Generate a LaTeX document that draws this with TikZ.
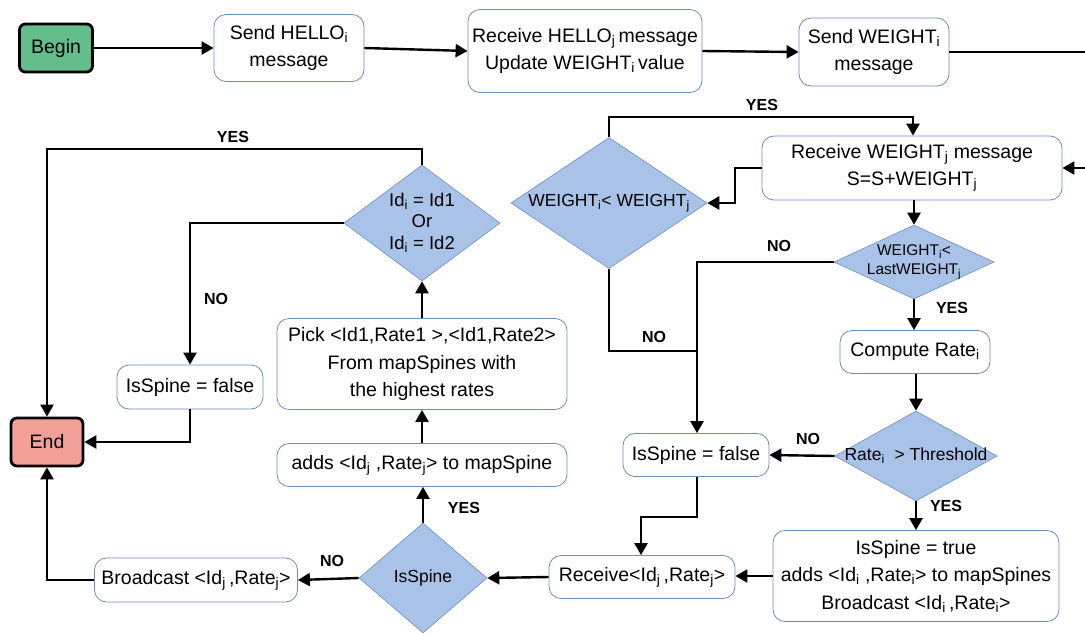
\documentclass[tikz,border=0pt]{standalone}
\usepackage{fontspec}
\setmainfont{Liberation Sans}
\usetikzlibrary{shapes.geometric,arrows.meta}
\definecolor{boxc}{RGB}{108,142,191}
\definecolor{diaf}{RGB}{168,194,232}
\definecolor{diac}{RGB}{108,142,191}
\definecolor{beginc}{RGB}{100,190,140}
\definecolor{endc}{RGB}{243,160,152}
\newcommand{\fsbox}{\fontsize{19.5}{27.5}\selectfont}
\newcommand{\fsdia}{\fontsize{17.5}{21}\selectfont}
\newcommand{\sbi}{\textsubscript{i}}
\newcommand{\sbj}{\textsubscript{j}}
\tikzset{
  box/.style={draw=boxc, line width=0.8pt, rounded corners=12pt, fill=white, align=center, font=\fsbox, inner sep=1pt},
  dia/.style={diamond, draw=diac, fill=diaf, line width=0.6pt, inner sep=0pt},
  diatext/.style={align=center, font=\fsdia, inner sep=0pt},
  term/.style={draw=black, line width=2.8pt, rounded corners=6pt, font=\fsbox},
  arr/.style={line width=2.4pt, -{Triangle[length=12pt,width=13pt]}},
  ln/.style={line width=2.4pt},
  lab/.style={font=\bfseries\fontsize{16}{18}\selectfont, inner sep=0pt}
}
\begin{document}
\begin{tikzpicture}[x=1pt,y=-1pt]
\useasboundingbox (0,0) rectangle (1085,633);
% top row
\node[term, fill=beginc, minimum width=73pt, minimum height=48pt] (begin) at (56,48) {Begin};
\node[box, minimum width=150pt, minimum height=67pt] (sh) at (289,48) {Send HELLO\sbi\\message};
\node[box, minimum width=234pt, minimum height=83pt] (rh) at (585,51) {Receive HELLO\sbj\,message\\Update WEIGHT\sbi\,value};
\node[box, minimum width=150pt, minimum height=68pt] (sw) at (874,52) {Send WEIGHT\sbi\\message};
\coordinate (outR) at (1085,52);
\coordinate (inR) at (1085,168);
% right column
\node[box, minimum width=300pt, minimum height=64pt] (rw) at (912,168) {Receive WEIGHT\sbj\ message\\S=S+WEIGHT\sbj};
\node[dia, minimum width=196pt, minimum height=131pt] (dw) at (609,203) {};
\node[diatext] (dwt) at (dw) {WEIGHT\sbi< WEIGHT\sbj};
\node[dia, minimum width=160pt, minimum height=74pt] (dlw) at (914,262) {};
\node[diatext, font=\fontsize{15.5}{19}\selectfont] (dlwt) at (dlw) {WEIGHT\sbi<\\LastWEIGHT\sbj};
\node[box, minimum width=150pt, minimum height=43pt] (cr) at (915,352) {Compute Rate\sbi};
\node[dia, minimum width=162pt, minimum height=90pt] (dr) at (916,456) {};
\node[diatext] (drt) at (dr) {Rate\sbi\ \ > Threshold};
\node[box, minimum width=146pt, minimum height=43pt] (isfr) at (696,455) {IsSpine = false};
\node[box, minimum width=286pt, minimum height=91pt] (ist) at (916,576) {IsSpine = true\\adds <Id\sbi\ ,Rate\sbi> to mapSpines\\Broadcast <Id\sbi\,,Rate\sbi>};
\node[box, minimum width=186pt, minimum height=43pt] (rc) at (642,577) {Receive<Id\sbj\,,Rate\sbj>};
% left part
\node[dia, minimum width=128pt, minimum height=110pt] (dis) at (423,578) {};
\node[diatext] (dist) at (dis) {IsSpine};
\node[box, minimum width=290pt, minimum height=43pt] (adds) at (422,465) {adds <Id\sbj\ ,Rate\sbj> to mapSpine};
\node[box, minimum width=290pt, minimum height=91pt] (pick) at (422,364) {Pick <Id1,Rate1 >,<Id1,Rate2>\\From mapSpines with\\the highest rates};
\node[dia, minimum width=156pt, minimum height=116pt] (did) at (422,223) {};
\node[diatext, font=\fontsize{18.5}{21.5}\selectfont] (didt) at (did) {Id\sbi\ = Id1\\Or\\Id\sbi\ = Id2};
\node[box, minimum width=146pt, minimum height=44pt] (isfl) at (190,387) {IsSpine = false};
\node[term, fill=endc, minimum width=72pt, minimum height=48pt] (end) at (47,442) {End};
\node[box, minimum width=203pt, minimum height=44pt] (bc) at (196,580) {Broadcast <Id\sbj\,,Rate\sbj>};
% connectors
\draw[arr] (begin.east) -- (sh.west);
\draw[arr] (sh.east) -- (rh.west);
\draw[arr] (rh.east) -- (sw.west);
\draw[ln] (sw.east) -- (outR);
\draw[arr] (inR) -- (rw.east);
\draw[arr] (rw.west) -- (735,168) -- (735,203) -- (dw.east);
\draw[arr] (dw.north) -- (609,117) -- (913,117) -- (rw.north -| 913,0);
\node[lab] (l1) at (762,105) {YES};
\draw[arr] (rw.south -| dlw.north) -- (dlw.north);
\draw[arr] (dlw.west) -- (697,262) -- (isfr.north -| 697,0);
\node[lab] (l2) at (779,246) {NO};
\draw[ln] (dw.south) -- (609,351) -- (697,351);
\node[lab] (l3) at (654,337) {NO};
\draw[arr] (dlw.south) -- (cr.north -| dlw.south);
\node[lab] (l4) at (952,308) {YES};
\draw[arr] (cr.south -| dr.north) -- (dr.north);
\draw[arr] (dr.west) -- (isfr.east);
\node[lab] (l5) at (808,439) {NO};
\draw[arr] (dr.south) -- (ist.north -| dr.south);
\node[lab] (l6) at (946,506) {YES};
\draw[arr] (ist.west) -- (rc.east |- ist.west);
\draw[arr] (isfr.south -| 697,0) -- (697,517) -- (641,517) -- (rc.north -| 641,0);
\draw[arr] (rc.west) -- (dis.east);
\draw[arr] (dis.north) -- (adds.south -| dis.north);
\node[lab] (l7) at (464,508) {YES};
\draw[arr] (adds.north) -- (pick.south);
\draw[arr] (pick.north) -- (did.south);
\draw[arr] (did.north) -- (422,149) -- (47,149) -- (end.north);
\node[lab] (l8) at (233,137) {YES};
\draw[arr] (did.west) -- (190,223) -- (isfl.north);
\node[lab] (l9) at (216,299) {NO};
\draw[arr] (isfl.south) -- (190,442) -- (end.east);
\draw[arr] (dis.west) -- (bc.east);
\node[lab] (l10) at (332,561) {NO};
\draw[arr] (bc.west) -- (47,580) -- (end.south);
\end{tikzpicture}
\end{document}
